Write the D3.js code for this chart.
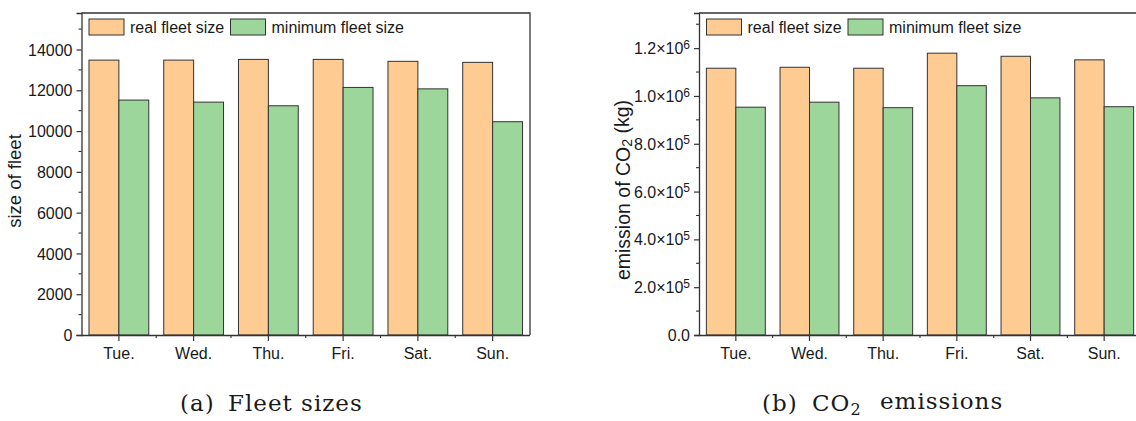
<!DOCTYPE html>
<html>
<head>
<meta charset="utf-8">
<script src="https://cdn.jsdelivr.net/npm/d3@7"></script>
<style>
  html, body { margin: 0; padding: 0; background: #fff; }
  svg { display: block; }
  text { font-family: "Liberation Sans", Arial, sans-serif; fill: #1a1a1a; }
  .caption { font-family: "DejaVu Serif", "Liberation Serif", serif; letter-spacing: 1px; }
</style>
</head>
<body>
<svg id="fig" width="1136" height="421"></svg>
<script>
// Days shown on both panels
const days = ["Tue.", "Wed.", "Thu.", "Fri.", "Sat.", "Sun."];
const seriesNames = ["real fleet size", "minimum fleet size"];

// Panel (a): fleet sizes
const fleetReal = [13480, 13480, 13515, 13515, 13420, 13370];
const fleetMin  = [11520, 11420, 11240, 12140, 12070, 10460];
const fleetTicks = [0, 2000, 4000, 6000, 8000, 10000, 12000, 14000];

// Panel (b): CO2 emissions (kg)
const co2Real = [1116000, 1120000, 1116000, 1179000, 1166000, 1151000];
const co2Min  = [953000, 974000, 951000, 1043000, 992000, 955000];
const co2Ticks = [0, 200000, 400000, 600000, 800000, 1000000, 1200000];

const colors = ["#fecb92", "#9dd69b"];
const ink = "#333";

const svg = d3.select("#fig");

function panel(opt) {
  const { left, right, top, bottom, ymax, real, min, ticks, minorStep, fmt, ylabel, ylabelX, ylabelY, ylabelSize, legendX2 } = opt;
  const g = svg.append("g");

  const x = d3.scaleBand().domain(days).range([left, right]).paddingInner(0).paddingOuter(0);
  const inner = d3.scaleBand().domain([0, 1]).range([0, x.bandwidth()]).paddingOuter(0.25).paddingInner(0);
  const y = d3.scaleLinear().domain([0, ymax]).range([bottom, top]);

  // bars
  const rows = days.map((d, i) => ({ day: d, vals: [real[i], min[i]] }));
  const grp = g.selectAll("g.day").data(rows).join("g")
    .attr("transform", d => `translate(${x(d.day)},0)`);
  grp.selectAll("rect").data(d => d.vals.map((v, k) => ({ v, k }))).join("rect")
    .attr("x", d => inner(d.k))
    .attr("width", inner.bandwidth())
    .attr("y", d => y(d.v))
    .attr("height", d => y(0) - y(d.v))
    .attr("fill", d => colors[d.k])
    .attr("stroke", ink)
    .attr("stroke-width", 1);

  // frame: top and right edges
  g.append("path")
    .attr("d", `M${left},${top}H${right}V${bottom}`)
    .attr("fill", "none").attr("stroke", ink).attr("stroke-width", 1.3);

  // y axis, major ticks
  const yAxis = d3.axisLeft(y).tickValues(ticks).tickSize(5).tickPadding(4).tickFormat(() => "");
  const ya = g.append("g").attr("transform", `translate(${left},0)`).call(yAxis);
  ya.select(".domain").attr("stroke", ink).attr("stroke-width", 1.3);
  ya.selectAll(".tick line").attr("stroke", ink).attr("stroke-width", 1.2);
  ya.selectAll(".tick").each(function (d) {
    const t = d3.select(this).append("text")
      .attr("x", -9).attr("dy", "0.35em")
      .attr("text-anchor", "end")
      .style("font-size", "16px");
    fmt(t, d);
  });
  // y minor ticks
  const minors = d3.range(minorStep, ymax, minorStep).filter(v => !ticks.includes(v));
  g.selectAll("line.yminor").data(minors).join("line")
    .attr("x1", left - 3).attr("x2", left)
    .attr("y1", d => y(d)).attr("y2", d => y(d))
    .attr("stroke", ink).attr("stroke-width", 1.1);

  // x axis
  const xAxis = d3.axisBottom(x).tickSize(6).tickPadding(7);
  const xa = g.append("g").attr("transform", `translate(0,${bottom})`).call(xAxis);
  xa.select(".domain").attr("d", `M${left},0.5H${right}`).attr("stroke", ink).attr("stroke-width", 1.3);
  xa.selectAll(".tick line").attr("stroke", ink).attr("stroke-width", 1.2);
  xa.selectAll(".tick text").style("font-size", "16px").attr("fill", "#1a1a1a")
    .style("font-family", '"Liberation Sans", Arial, sans-serif');
  // x minor ticks between days
  g.selectAll("line.xminor").data(days.slice(1)).join("line")
    .attr("x1", d => x(d)).attr("x2", d => x(d))
    .attr("y1", bottom).attr("y2", bottom + 3)
    .attr("stroke", ink).attr("stroke-width", 1.1);

  // y label
  const yl = g.append("text")
    .attr("transform", `translate(${ylabelX},${ylabelY}) rotate(-90)`)
    .attr("text-anchor", "middle")
    .style("font-size", ylabelSize);
  ylabel(yl);

  // legend
  const lx = [left + 7.5, legendX2];
  seriesNames.forEach((name, k) => {
    g.append("rect")
      .attr("x", lx[k]).attr("y", 19).attr("width", 35).attr("height", 16)
      .attr("fill", colors[k]).attr("stroke", ink).attr("stroke-width", 1);
    g.append("text")
      .attr("x", lx[k] + 41).attr("y", 33)
      .style("font-size", "16px")
      .text(name);
  });
}

panel({
  left: 81.5, right: 530, top: 13, bottom: 335, ymax: 15790,
  real: fleetReal, min: fleetMin, ticks: fleetTicks, minorStep: 1000,
  fmt: (t, d) => t.text(d),
  ylabel: t => t.text("size of fleet"),
  ylabelX: 20.5, ylabelY: 181, ylabelSize: "18.5px",
  legendX2: 230.5
});

panel({
  left: 699, right: 1141, top: 13, bottom: 335, ymax: 1347000,
  real: co2Real, min: co2Min, ticks: co2Ticks, minorStep: 100000,
  fmt: (t, d) => {
    if (d === 0) { t.text("0.0"); return; }
    const e = Math.floor(Math.log10(d));
    const m = d / Math.pow(10, e);
    t.append("tspan").text(m.toFixed(1) + "\u00d710");
    t.append("tspan").attr("dy", "-0.45em").style("font-size", "12px").text(e);
  },
  ylabel: t => {
    t.append("tspan").text("emission of CO");
    t.append("tspan").attr("dy", "0.12em").style("font-size", "14px").text("2");
    t.append("tspan").attr("dy", "-0.12em").text(" (kg)");
  },
  ylabelX: 630, ylabelY: 190, ylabelSize: "19.5px",
  legendX2: 848
});

// captions
const capA = svg.append("text").attr("class", "caption")
  .attr("y", 411).style("font-size", "23px");
capA.append("tspan").attr("x", 180).text("(a)");
capA.append("tspan").attr("x", 228).text("Fleet sizes");

const capB = svg.append("text").attr("class", "caption")
  .attr("y", 411).style("font-size", "23px");
capB.append("tspan").attr("x", 762).text("(b)");
capB.append("tspan").attr("x", 812).text("CO");
capB.append("tspan").attr("dy", "0.22em").style("font-size", "16px").text("2");
capB.append("tspan").attr("x", 880).attr("dy", "-0.22em").text("emissions");
</script>
</body>
</html>
